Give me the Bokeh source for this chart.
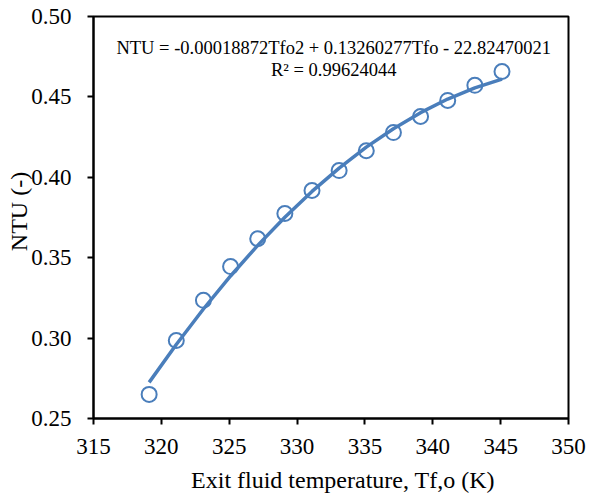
import numpy as np
from bokeh.plotting import figure
from bokeh.models import Label, NumeralTickFormatter, FixedTicker
from bokeh.embed import file_html
from bokeh.resources import INLINE

# Data
tfo = [319.1, 321.1, 323.1, 325.1, 327.1, 329.1, 331.1, 333.1, 335.1, 337.1, 339.1, 341.1, 343.1, 345.1]
ntu = [0.265, 0.2985, 0.3235, 0.3445, 0.3618, 0.3775, 0.3918, 0.4042, 0.4165, 0.4278, 0.4378, 0.4478, 0.4572, 0.4658]

# Trendline coefficients from the chart equation
trend_coef = [-0.00018872, 0.13260277, -22.82470021]
equation_text = "NTU = -0.00018872Tfo2 + 0.13260277Tfo - 22.82470021"
r2_text = "R\u00b2 = 0.99624044"
x_title = "Exit fluid temperature, Tf,o (K)"
y_title = "NTU (-)"

x_ticks = [315, 320, 325, 330, 335, 340, 345, 350]
y_ticks = [0.25, 0.30, 0.35, 0.40, 0.45, 0.50]

BLUE = "#4a7ebb"
FONT = "Liberation Serif"
NB = "\u00a0"

p = figure(width=592, height=497, output_backend="svg", toolbar_location=None,
           x_range=(315, 350), y_range=(0.25, 0.50),
           min_border_left=93, min_border_right=24, min_border_top=16, min_border_bottom=79)

p.grid.visible = False
p.outline_line_color = "black"
p.outline_line_width = 2
p.background_fill_color = "white"
p.border_fill_color = "white"

for ax in (p.xaxis[0], p.yaxis[0]):
    ax.axis_line_color = "black"
    ax.axis_line_width = 2
    ax.major_tick_line_color = "black"
    ax.major_tick_line_width = 2
    ax.major_tick_out = 6
    ax.major_tick_in = 0
    ax.minor_tick_line_color = None
    ax.major_label_text_font = FONT
    ax.major_label_text_font_size = "23px"
    ax.major_label_text_color = "black"
    ax.axis_label_text_font = FONT
    ax.axis_label_text_font_size = "24px"
    ax.axis_label_text_font_style = "normal"
    ax.axis_label_text_color = "black"

p.xaxis.ticker = FixedTicker(ticks=x_ticks)
p.yaxis.ticker = FixedTicker(ticks=y_ticks)
p.yaxis.formatter = NumeralTickFormatter(format="0.00")
p.xaxis.major_label_standoff = 14
p.yaxis.major_label_standoff = 16
p.xaxis.axis_label = NB * 4 + x_title
p.yaxis.axis_label = NB * 2 + y_title
p.xaxis.axis_label_standoff = 10
p.yaxis.axis_label_standoff = -4

p.scatter(tfo, ntu, size=15, marker="circle", fill_color=None, line_color=BLUE, line_width=2)
trend_y = np.polyval(trend_coef, np.array(tfo))
p.line(tfo, trend_y, line_color=BLUE, line_width=3.5)

p.add_layout(Label(x=332.7, y=0.4807, text=equation_text, text_align="center", text_baseline="middle",
                   text_font=FONT, text_font_size="18.5px", text_color="black"))
p.add_layout(Label(x=332.7, y=0.4670, text=r2_text, text_align="center", text_baseline="middle",
                   text_font=FONT, text_font_size="18.5px", text_color="black"))

open("out.html", "w").write(file_html(p, INLINE))
